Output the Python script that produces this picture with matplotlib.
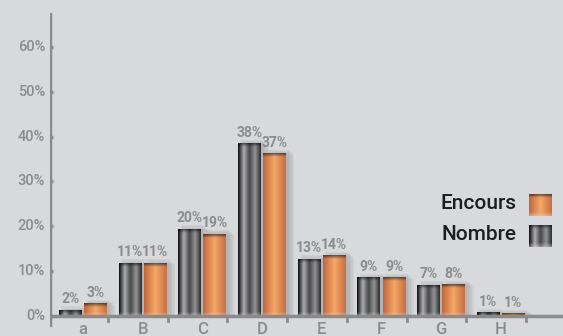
import numpy as np
import matplotlib.pyplot as plt
from matplotlib.patches import Rectangle

# données
categories = ["a", "B", "C", "D", "E", "F", "G", "H"]
nombre = [1.3, 11.8, 19.4, 38.4, 12.7, 8.5, 6.9, 0.7]
encours = [2.7, 11.8, 18.3, 36.2, 13.4, 8.5, 7.0, 0.6]
nombre_lbl = ["2%", "11%", "20%", "38%", "13%", "9%", "7%", "1%"]
encours_lbl = ["3%", "11%", "19%", "37%", "14%", "9%", "8%", "1%"]
yticks = [0, 10, 20, 30, 40, 50, 60]

plt.rcParams['font.family'] = ['Roboto', 'DejaVu Sans']
grey = '#8a8b8d'
bg = '#d8d9db'


def ramp(stops, n=64):
    # stops: liste de (position, couleur rgb)
    pos = np.array([s[0] for s in stops])
    cols = np.array([s[1] for s in stops])
    t = np.linspace(0, 1, n)
    return np.stack([np.interp(t, pos, cols[:, k]) for k in range(3)], axis=1)


dark_h = ramp([(0, (0.05, 0.05, 0.05)), (0.25, (0.68, 0.68, 0.69)),
               (0.5, (0.28, 0.28, 0.29)), (0.75, (0.58, 0.58, 0.59)),
               (1, (0.18, 0.18, 0.18))])
orange_h = ramp([(0, (0.76, 0.40, 0.24)), (0.5, (0.96, 0.66, 0.40)),
                 (1, (0.78, 0.43, 0.27))])


def bar_img(h_ramp, top):
    # ombrage vertical en unités de données (bande sombre en haut, claire en bas)
    n = max(int(top * 20), 8)
    y = np.linspace(top, 0, n)[:, None]
    dtop = top - y
    shade = 0.45 + 0.55 * np.clip(dtop / 0.8, 0, 1)
    img = h_ramp[None, :, :] * shade[:, :, None]
    light = np.clip((0.9 - y) / 0.9, 0, 1)[:, :, None] * (top > 2)
    img = img * (1 - 0.45 * light) + 0.45 * light * np.array([0.9, 0.88, 0.87])
    return np.clip(img, 0, 1)


fig = plt.figure(figsize=(5.63, 3.36), dpi=100, facecolor=bg)
ax = fig.add_axes([50 / 563, 9 / 336, 513 / 563, 314 / 336])
ax.set_facecolor(bg)
x0 = -33 / 59.7

w = 0.385
off = 0.21
x = np.arange(len(categories))
for xs, vals, lbls, hr in [(x - off, nombre, nombre_lbl, dark_h),
                           (x + off, encours, encours_lbl, orange_h)]:
    for xi, v, lb in zip(xs, vals, lbls):
        # ombre
        for k in range(5):
            ax.add_patch(Rectangle((xi - w / 2 + 0.04 + k * 0.025, 0), w, v + 0.8 - k * 0.25,
                                   color='#666666', alpha=0.07, lw=0, zorder=1))
        ax.imshow(bar_img(hr, v), extent=[xi - w / 2, xi + w / 2, 0, v],
                  aspect='auto', interpolation='bilinear', zorder=2)
        ax.text(xi, v + 0.8, lb, ha='center', va='bottom', fontsize=10,
                fontweight='bold', color=grey, zorder=3)

for s in ax.spines.values():
    s.set_visible(False)
ax.axvline(x0, color=grey, lw=2.5, zorder=4)
ax.axhline(0, color=grey, lw=2.5, zorder=4)
ax.set_xticks([])
ax.set_yticks([])
for t in yticks:
    ax.plot([x0, x0 + 0.05], [t, t], color=grey, lw=2.5, zorder=4, solid_capstyle='butt')
    ax.text(x0 - 0.08, t, f"{t}%", ha='right', va='center', fontsize=10.5,
            fontweight='medium', color=grey, clip_on=False)
for xi, c in zip(x, categories):
    ax.plot([xi + 0.42, xi + 0.42], [0, -1.2], color=grey, lw=2, zorder=4)
    ax.text(xi, -1.4, c, ha='center', va='top', fontsize=12, fontweight='medium',
            color=grey, clip_on=False)

# légende
ax.text(7.26, 25.0, "Encours", ha='right', va='center', fontsize=15,
        fontweight='medium', color='#1e1e1e')
ax.text(7.26, 18.1, "Nombre", ha='right', va='center', fontsize=15,
        fontweight='medium', color='#1e1e1e')
ax.imshow(bar_img(orange_h, 4.9), extent=[7.47, 7.84, 22.3, 27.2], aspect='auto',
          interpolation='bilinear', zorder=3)
ax.imshow(bar_img(dark_h, 4.9), extent=[7.47, 7.84, 15.4, 20.3], aspect='auto',
          interpolation='bilinear', zorder=3)
ax.set_xlim(x0, x0 + 513 / 59.7)
ax.set_ylim(-2.5, 67.6)

fig.savefig("out.png", dpi=100, facecolor=bg)
